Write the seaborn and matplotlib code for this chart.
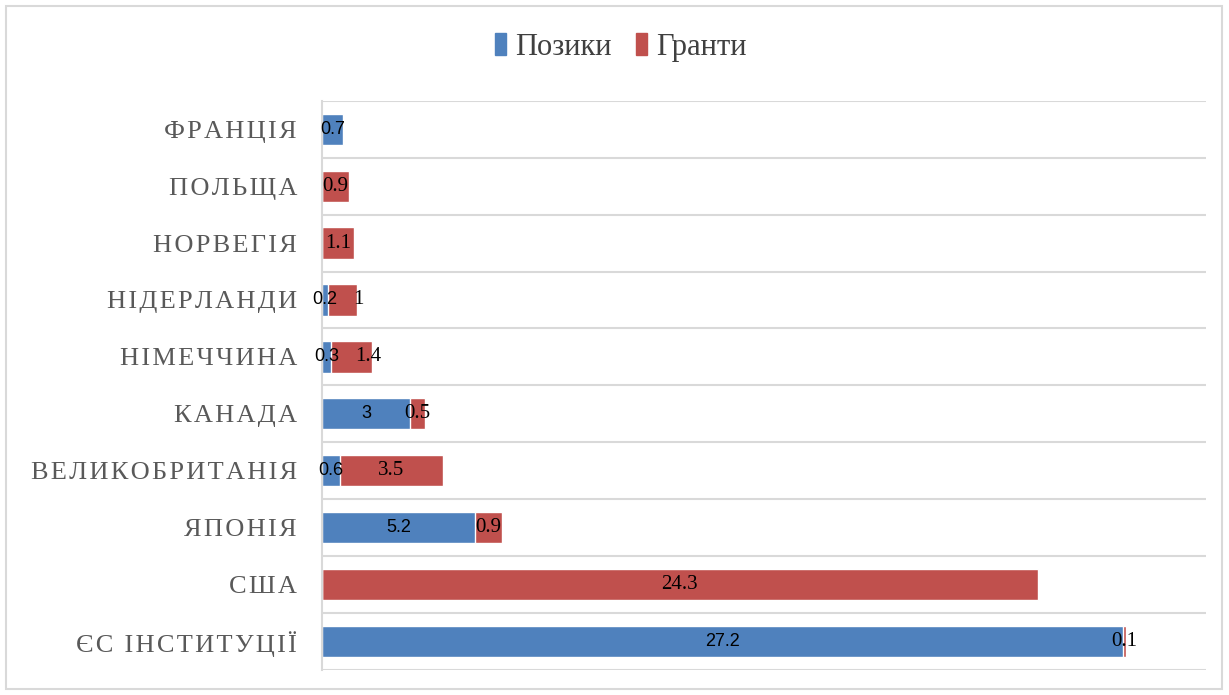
import numpy as np
import pandas as pd
import seaborn as sns
import matplotlib.pyplot as plt
from matplotlib.patches import Rectangle, Patch

# дані (млрд дол.)
countries = ['ФРАНЦІЯ', 'ПОЛЬЩА', 'НОРВЕГІЯ', 'НІДЕРЛАНДИ', 'НІМЕЧЧИНА',
             'КАНАДА', 'ВЕЛИКОБРИТАНІЯ', 'ЯПОНІЯ', 'США', 'ЄС ІНСТИТУЦІЇ']
loans = [0.7, 0, 0, 0.2, 0.3, 3, 0.6, 5.2, 0, 27.2]
grants = [0, 0.9, 1.1, 1, 1.4, 0.5, 3.5, 0.9, 24.3, 0.1]

blue = '#4F81BD'
red = '#C0504D'

df = pd.DataFrame({'country': countries, 'loans': loans, 'grants': grants})
df['total'] = df['loans'] + df['grants']

sns.set_style('white')
plt.rcParams['font.family'] = ['Liberation Serif', 'DejaVu Serif']

fig = plt.figure(figsize=(12.29, 6.95), dpi=100)
ax = fig.add_axes([0.262, 0.036, 0.719, 0.819])

# stacked: totals in red underneath, loans in blue on top
sns.barplot(data=df, y='country', x='total', color=red, width=0.55,
            orient='h', ax=ax, saturation=1)
sns.barplot(data=df, y='country', x='loans', color=blue, width=0.55,
            orient='h', ax=ax, saturation=1)

pairs = []
for i, (l, g) in enumerate(zip(loans, grants)):
    tl = tg = None
    if l > 0:
        tl = ax.text(l / 2, i, f'{l:g}', ha='center', va='center', fontsize=13,
                     family=['Liberation Sans', 'DejaVu Sans'], color='black')
    if g > 0:
        tg = ax.text(l + g / 2, i, f'{g:g}', ha='center', va='center',
                     fontsize=15, color='black')
    if tl is not None and tg is not None:
        pairs.append((tl, tg))

ax.set_xlim(0, 30)
ax.set_ylim(len(countries) - 0.5, -0.5)
ax.set_xticks([])
ax.set_xlabel('')
ax.set_ylabel('')

# letter-spaced category labels
spaced = ['\u200a'.join(c) for c in countries]
ax.set_yticks(range(len(countries)))
ax.set_yticklabels(spaced, fontsize=19, color='#595959')
ax.tick_params(axis='y', length=0, pad=18)

ax.set_yticks(np.arange(-0.5, len(countries)), minor=True)
ax.tick_params(axis='y', which='minor', length=0)
ax.grid(axis='y', which='minor', color='#D9D9D9', linewidth=1.5)
ax.grid(axis='y', which='major', visible=False)
ax.set_axisbelow(True)

for s in ['top', 'right', 'bottom']:
    ax.spines[s].set_visible(False)
ax.spines['left'].set_color('#D9D9D9')
ax.spines['left'].set_linewidth(1.5)

# push grant labels right when they would collide with loan labels
fig.canvas.draw()
r = fig.canvas.get_renderer()
for tl, tg in pairs:
    bl = tl.get_window_extent(r)
    bg = tg.get_window_extent(r)
    if bg.x0 < bl.x1 + 6:
        x_new = ax.transData.inverted().transform((bl.x1 + 16, 0))[0]
        tg.set_ha('left')
        tg.set_x(x_new)

handles = [Patch(color=blue, label='Позики'), Patch(color=red, label='Гранти')]
fig.legend(handles=handles, loc='center', bbox_to_anchor=(0.505, 0.932),
           ncol=2, frameon=False, fontsize=22, handlelength=0.35,
           handleheight=0.7, handletextpad=0.3, columnspacing=0.8,
           labelcolor='#404040')

fig.patches.append(Rectangle((6 / 1229, 6 / 695), 1216 / 1229, 683 / 695,
                             transform=fig.transFigure, fill=False,
                             edgecolor='#D9D9D9', linewidth=1.5))

fig.savefig('out.png', dpi=100)
